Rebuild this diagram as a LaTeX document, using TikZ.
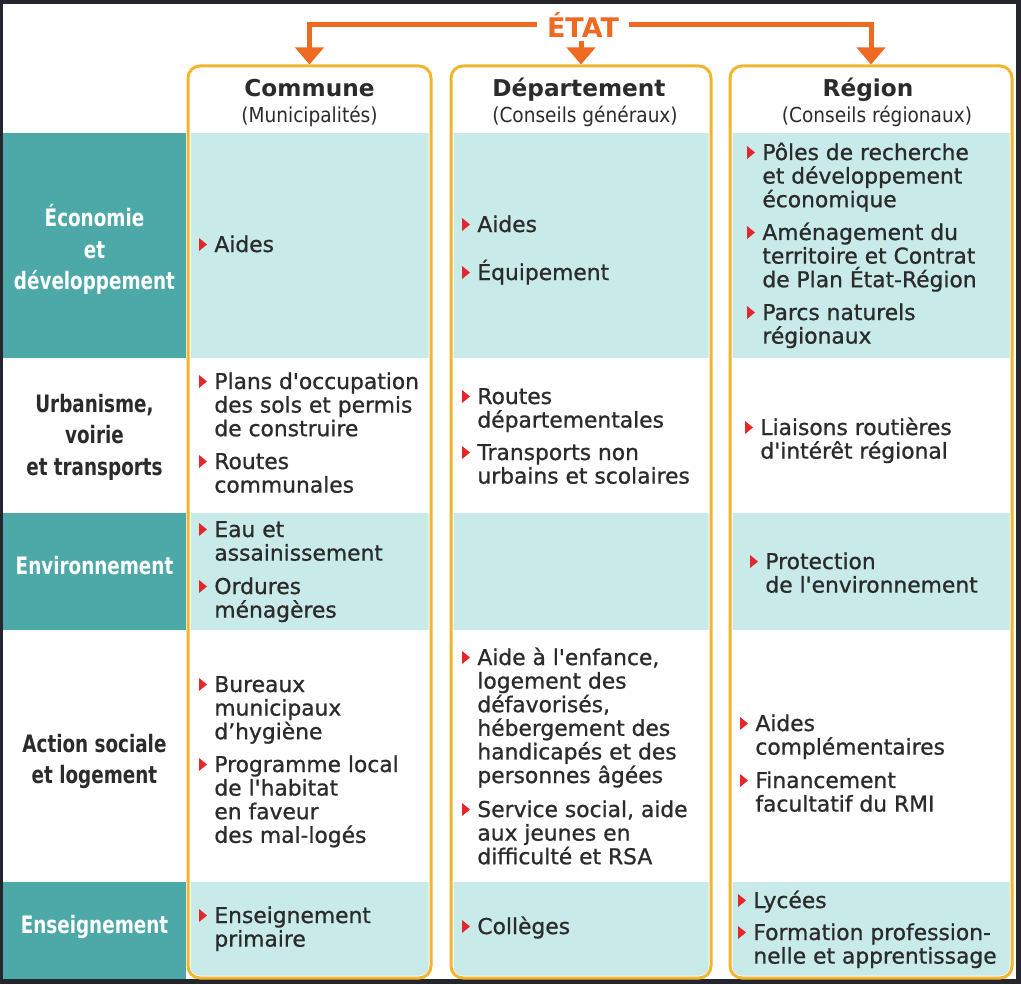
\documentclass[tikz,border=0pt]{standalone}
\usepackage{fontspec}
\setmainfont{DejaVu Sans}
\newfontfamily\bodyfont{DejaVu Sans}
\newfontfamily\itemfont[FakeBold=0.9]{DejaVu Sans}
\newfontfamily\condfont{DejaVu Sans Condensed}
\newfontfamily\lblfont[FakeStretch=0.85]{DejaVu Sans Condensed}
\usetikzlibrary{arrows.meta}

\definecolor{darkteal}{HTML}{4DA9A7}
\definecolor{lightteal}{HTML}{C8EBE9}
\definecolor{boxgold}{HTML}{F1B530}
\definecolor{etatorange}{HTML}{EE6A22}
\definecolor{bulred}{HTML}{E4272B}
\definecolor{inkgray}{HTML}{2B2B2B}
\definecolor{scanedge}{HTML}{25252D}

% lines stacked from the first baseline down
\newcommand{\leftlines}[1]{\vtop{\let\\\cr\lineskiplimit=-\maxdimen\halign{##\hfil\cr#1\crcr}}}
\newcommand{\midlines}[1]{\vtop{\let\\\cr\lineskiplimit=-\maxdimen\halign{\hfil##\hfil\cr#1\crcr}}}

\tikzset{
  colbox/.style={draw=boxgold, line width=1.5pt, rounded corners=6pt, inner sep=0pt},
  colhead/.style={font=\bodyfont\bfseries\fontsize{11.6}{13}\selectfont, text=inkgray, anchor=base, inner sep=0pt},
  colsub/.style={font=\condfont\fontsize{10.3}{12}\selectfont, text=inkgray, anchor=base, inner sep=0pt},
  rowlbl/.style={font=\lblfont\bfseries\fontsize{12}{15.75}\selectfont, anchor=base, inner sep=0pt},
  item/.style={font=\itemfont\fontsize{10.9}{11.8}\selectfont, text=inkgray, anchor=base west, inner sep=0pt},
  bul/.pic={\fill[bulred] (0,-1) -- (8,-7.5) -- (0,-14) -- cycle;},
  etatline/.style={draw=etatorange, line width=2.5pt, -{Triangle[width=14pt,length=8.5pt]}}
}

\begin{document}
\begin{tikzpicture}[x=0.5pt, y=-0.5pt]
\useasboundingbox (0,0) rectangle (1021,984);
% scanned page edge
\fill[scanedge] (0,0) rectangle (1021,984);
\fill[white] (3,4) rectangle (1016,979);

% the three columns
\node[colbox, minimum width=121.5pt, minimum height=456pt] (commune) at (309.5,522) {};
\node[colbox, minimum width=130pt, minimum height=456pt] (dept) at (581,522) {};
\node[colbox, minimum width=141pt, minimum height=456pt] (region) at (871,522) {};

% light bands inside the columns
\foreach \b in {commune,dept,region}{
  \begin{scope}
    \clip[rounded corners=4.5pt] ([shift={(2pt,-2pt)}]\b.north west) rectangle ([shift={(-2pt,2pt)}]\b.south east);
    \fill[lightteal] (0,133) rectangle (1021,358);
    \fill[lightteal] (0,513) rectangle (1021,630);
    \fill[lightteal] (0,882) rectangle (1021,984);
  \end{scope}
}

% row labels column
\fill[darkteal] (3,133) rectangle (186,358);
\fill[darkteal] (3,513) rectangle (186,630);
\fill[darkteal] (3,882) rectangle (186,979);

\node[rowlbl, text=white] (eco) at (94.5,227) {\midlines{Économie\\et\\développement}};
\node[rowlbl, text=inkgray] (urba) at (94.5,412) {\midlines{Urbanisme,\\voirie\\et transports}};
\node[rowlbl, text=white] (envi) at (94.5,574) {Environnement};
\node[rowlbl, text=inkgray] (soc) at (94.5,752) {\midlines{Action sociale\\et logement}};
\node[rowlbl, text=white] (ens) at (94.5,933) {Enseignement};

% headings
\node[colhead] (h1) at (309.5,97) {Commune};
\node[colsub] (s1) at (309.5,123) {(Municipalités)};
\node[colhead] (h2) at (579,97) {Département};
\node[colsub] (s2) at (585,123) {(Conseils généraux)};
\node[colhead] (h3) at (868,97) {Région};
\node[colsub] (s3) at (877,123) {(Conseils régionaux)};

% etat and its arrows
\node[font=\bodyfont\bfseries\fontsize{13.5}{15}\selectfont, text=etatorange, inner xsep=5pt, inner ysep=1.5pt] (etat) at (583,25) {ÉTAT};
\draw[etatline] (etat.west) -| (commune.north);
\draw[etatline] (dept.north |- etat.south) -- (dept.north);
\draw[etatline] (etat.east) -| (region.north);

% commune
\node[item] (c1) at (214,252) {Aides};
\node[item] (c2) at (214,389) {\leftlines{Plans d'occupation\\des sols et permis\\de construire}};
\node[item] (c3) at (214,469) {\leftlines{Routes\\communales}};
\node[item] (c4) at (214,537) {\leftlines{Eau et\\assainissement}};
\node[item] (c5) at (214,594) {\leftlines{Ordures\\ménagères}};
\node[item] (c6) at (214,692) {\leftlines{Bureaux\\municipaux\\d’hygiène}};
\node[item] (c7) at (214,772) {\leftlines{Programme local\\de l'habitat\\en faveur\\des mal-logés}};
\node[item] (c8) at (214,923) {\leftlines{Enseignement\\primaire}};

% departement
\node[item] (d1) at (477,232) {Aides};
\node[item] (d2) at (477,280) {Équipement};
\node[item] (d3) at (477,404) {\leftlines{Routes\\départementales}};
\node[item] (d4) at (477,460) {\leftlines{Transports non\\urbains et scolaires}};
\node[item] (d5) at (477,665) {\leftlines{Aide à l'enfance,\\logement des\\défavorisés,\\hébergement des\\handicapés et des\\personnes âgées}};
\node[item] (d6) at (477,817) {\leftlines{Service social, aide\\aux jeunes en\\difficulté et RSA}};
\node[item] (d7) at (477,934) {Collèges};

% region
\node[item] (r1) at (762,160) {\leftlines{Pôles de recherche\\et développement\\économique}};
\node[item] (r2) at (762,240) {\leftlines{Aménagement du\\territoire et Contrat\\de Plan État-Région}};
\node[item] (r3) at (762,320) {\leftlines{Parcs naturels\\régionaux}};
\node[item] (r4) at (760,435) {\leftlines{Liaisons routières\\d'intérêt régional}};
\node[item] (r5) at (765,569) {\leftlines{Protection\\de l'environnement}};
\node[item] (r6) at (755,731) {\leftlines{Aides\\complémentaires}};
\node[item] (r7) at (755,788) {\leftlines{Financement\\facultatif du RMI}};
\node[item] (r8) at (753,908) {Lycées};
\node[item] (r9) at (753,940) {\leftlines{Formation profession-\\nelle et apprentissage}};

% red bullets
\foreach \n in {c1,c2,c3,c4,c5,c6,c7,c8,d1,d2,d3,d4,d5,d6,d7,r1,r2,r3,r4,r5,r6,r7,r8,r9}
  \pic at ([xshift=-7.5pt]\n.base west) {bul};
\end{tikzpicture}
\end{document}
